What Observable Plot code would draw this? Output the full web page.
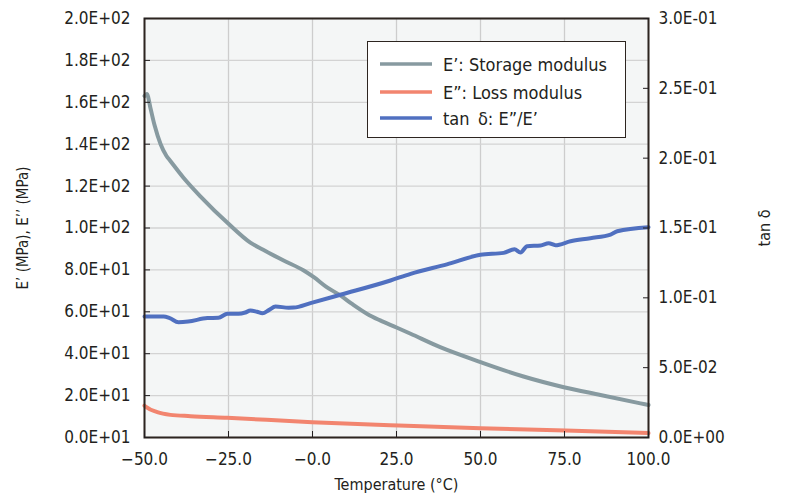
<!DOCTYPE html>
<html>
<head>
<meta charset="utf-8">
<script src="https://cdn.jsdelivr.net/npm/d3@7"></script>
<script src="https://cdn.jsdelivr.net/npm/@observablehq/plot@0.6"></script>
<style>
  html, body { margin: 0; padding: 0; background: #fff; }
  #wrap { position: relative; width: 785px; height: 501px; font-family: "Liberation Sans Narrow", "Arial Narrow", "DejaVu Sans Condensed", sans-serif; color: #231f20; }
  #legend { position: absolute; left: 367px; top: 41px; width: 257px; height: 95px; background: #fff; border: 1.5px solid #2d2520; font-size: 18px; }
  .row { position: absolute; left: 12px; height: 20px; display: flex; align-items: center; }
  .row svg { margin-right: 11px; }
</style>
</head>
<body>
<div id="wrap"><div id="legend"></div></div>
<script>
// Storage modulus E' (MPa)
const storageT = [-50, -49.3, -48.2, -47, -45.2, -43.5, -42.3, -38.4, -33.3, -25, -18.5, -14, -8.6, -2.6, 0.4, 4, 8.3, 12, 16.3, 20, 25, 29.2, 38, 50, 62.8, 74.8, 85.7, 97.6, 100];
const storageV = [163, 164, 157, 149, 140, 134.5, 132, 124, 115, 102, 93, 89, 84.5, 79.7, 76.5, 72, 67.8, 63.5, 59, 56, 52.5, 49.5, 43.1, 36, 29.1, 24, 20.3, 16.3, 15.5];
// Loss modulus E'' (MPa)
const lossT = [-50, -49.7, -46.2, -42.3, -36.3, -25.4, -0.1, 25.7, 50, 75.3, 100];
const lossV = [15.2, 14.8, 12.1, 10.8, 10.2, 9.4, 7.3, 5.7, 4.4, 3.3, 2.1];
// tan delta (right axis)
const tanT = [-50, -44.3, -42.5, -39.9, -37, -31.3, -28, -25.3, -22, -20, -18.5, -16.5, -14.9, -13, -11, -7.1, -5.6, -0.6, 8.3, 23.2, 29.2, 40, 50, 56.9, 60.1, 61.9, 63.9, 67.9, 70.3, 72.3, 76.8, 82.7, 88.7, 90.7, 100];
const tanV = [0.0867, 0.0867, 0.0855, 0.0826, 0.083, 0.0855, 0.0857, 0.0886, 0.0886, 0.0895, 0.0909, 0.0900, 0.089, 0.0912, 0.0938, 0.0929, 0.093, 0.0962, 0.1022, 0.1124, 0.1172, 0.124, 0.1308, 0.1322, 0.1348, 0.1325, 0.137, 0.1375, 0.1391, 0.1377, 0.1405, 0.1427, 0.1453, 0.1477, 0.1506];

// Ticks and labels
const xTicks = [-50, -25, 0, 25, 50, 75, 100];
const xLabels = ["\u221250.0", "\u221225.0", "\u22120.0", "25.0", "50.0", "75.0", "100.0"];
const leftTicks = [0, 20, 40, 60, 80, 100, 120, 140, 160, 180, 200];
const leftLabels = ["0.0E+01", "2.0E+01", "4.0E+01", "6.0E+01", "8.0E+01", "1.0E+02", "1.2E+02", "1.4E+02", "1.6E+02", "1.8E+02", "2.0E+02"];
const rightTicks = [0, 0.05, 0.1, 0.15, 0.2, 0.25, 0.3];
const rightLabels = ["0.0E+00", "5.0E-02", "1.0E-01", "1.5E-01", "2.0E-01", "2.5E-01", "3.0E-01"];

const seriesNames = ["E\u2019: Storage modulus", "E\u201d: Loss modulus", "tan\u2009 \u03b4: E\u201d/E\u2019"];
const seriesColors = ["#879aa0", "#f2856f", "#5070c0"];

const leftMax = 200, rightMax = 0.3;
const k = leftMax / rightMax;

const storage = storageT.map((t, i) => ({t, v: storageV[i]}));
const loss = lossT.map((t, i) => ({t, v: lossV[i]}));
const tan = tanT.map((t, i) => ({t, v: tanV[i] * k}));

const font = "\"Liberation Sans Narrow\", \"Arial Narrow\", \"DejaVu Sans Condensed\", sans-serif";

const chart = Plot.plot({
  width: 785,
  height: 501,
  marginLeft: 144,
  marginRight: 137,
  marginTop: 18,
  marginBottom: 64,
  style: {fontFamily: font, fontSize: "17px", color: "#231f20", background: "transparent"},
  x: {domain: [-50, 100]},
  y: {domain: [0, leftMax]},
  marks: [
    Plot.frame({fill: "#f4f6f6", stroke: null}),
    Plot.gridX(xTicks, {stroke: "#cdcdcd", strokeOpacity: 1, strokeWidth: 1.3}),
    Plot.gridY(leftTicks, {stroke: "#d3d3d3", strokeOpacity: 1, strokeWidth: 1.3}),
    Plot.line(storage, {x: "t", y: "v", stroke: seriesColors[0], strokeWidth: 4, curve: "monotone-x"}),
    Plot.line(loss, {x: "t", y: "v", stroke: seriesColors[1], strokeWidth: 4, curve: "monotone-x"}),
    Plot.line(tan, {x: "t", y: "v", stroke: seriesColors[2], strokeWidth: 4, curve: "monotone-x"}),
    Plot.frame({stroke: "#2d2520", strokeWidth: 2}),
    Plot.axisX(xTicks, {tickSize: -6, tickPadding: 21, fontSize: 17, tickFormat: d => xLabels[xTicks.indexOf(d)], label: null}),
    Plot.axisY(leftTicks, {anchor: "left", tickSize: -6, tickPadding: 20, fontSize: 17, tickFormat: d => leftLabels[leftTicks.indexOf(d)], label: null}),
    Plot.axisY(rightTicks.map(d => d * k), {anchor: "right", tickSize: -6, tickPadding: 16, fontSize: 17, tickFormat: d => rightLabels[rightTicks.indexOf(Math.round(d / k * 100) / 100)], label: null}),
    Plot.text(["E\u2019 (MPa), E\u2019\u2019 (MPa)"], {frameAnchor: "left", textAnchor: "middle", dx: -121, rotate: -90, fontSize: 15}),
    Plot.text(["tan \u03b4"], {frameAnchor: "right", textAnchor: "middle", dx: 116, rotate: -90, fontSize: 16}),
    Plot.text(["Temperature (\u00b0C)"], {frameAnchor: "bottom", dy: 52, fontSize: 16})
  ]
});

const wrap = document.getElementById("wrap");
wrap.insertBefore(chart, wrap.firstChild);

const legend = document.getElementById("legend");
const rowTops = [12, 40, 66];
seriesNames.forEach((name, i) => {
  const row = document.createElement("div");
  row.className = "row";
  row.style.top = rowTops[i] + "px";
  row.innerHTML = `<svg width="52" height="6"><line x1="0" x2="52" y1="3" y2="3" stroke="${seriesColors[i]}" stroke-width="3.5"/></svg><span>${name}</span>`;
  legend.appendChild(row);
});
</script>
</body>
</html>
